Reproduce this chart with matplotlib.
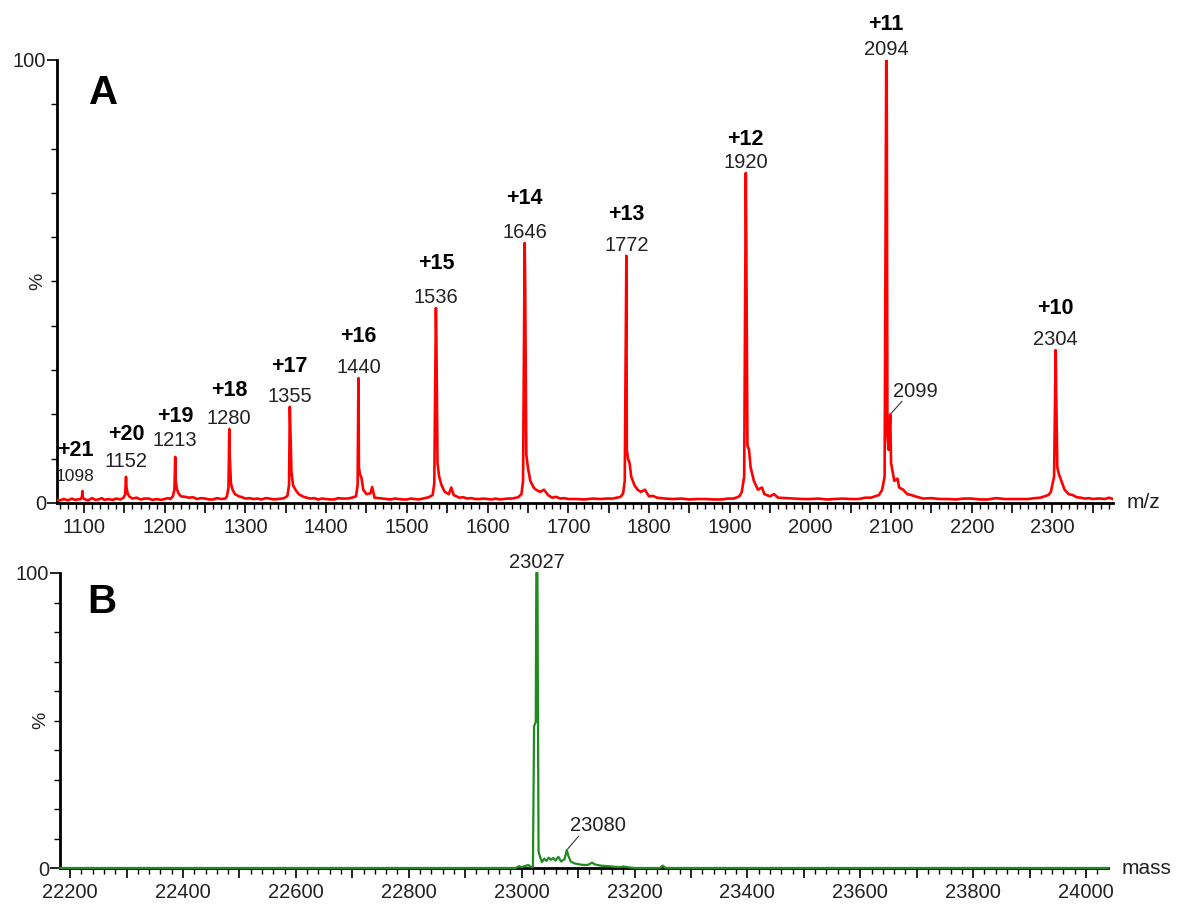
import matplotlib
matplotlib.use("Agg")
import matplotlib.pyplot as plt
from matplotlib.ticker import MultipleLocator, FuncFormatter, FixedLocator

plt.rcParams['font.family'] = ['Liberation Sans', 'DejaVu Sans']

# ---------------- Panel A data (m/z spectrum) ----------------
mz_A = [1066, 1070, 1075, 1080, 1085, 1089, 1092, 1096, 1097.5, 1098, 1098.6, 1100, 1105, 1110, 1114, 1118, 1122, 1125, 1130, 1135, 1140, 1145,
        1149, 1151, 1152, 1152.6, 1154, 1156, 1160, 1165, 1170, 1175, 1180, 1185, 1190, 1195, 1200, 1204, 1207,
        1210, 1212, 1213, 1213.6, 1215, 1217, 1220, 1225, 1230, 1235, 1240, 1245, 1250, 1255, 1260, 1265, 1270, 1275,
        1277, 1279, 1280, 1280.6, 1282, 1284, 1287, 1292, 1296, 1300, 1305, 1310, 1315, 1320, 1325, 1330, 1335, 1340, 1345, 1348,
        1352, 1354, 1355, 1355.6, 1357, 1359, 1362, 1366, 1372, 1376, 1380, 1385, 1390, 1395, 1400, 1405, 1410, 1415, 1420, 1426, 1432,
        1437, 1439, 1440, 1440.6, 1442, 1444, 1446, 1450, 1455, 1457, 1460, 1465, 1470, 1475, 1480, 1485, 1490, 1495, 1500, 1505, 1510, 1515, 1520, 1527,
        1532, 1534, 1536, 1536.6, 1538, 1540, 1543, 1547, 1552, 1555, 1558, 1565, 1570, 1575, 1580, 1585, 1590, 1595, 1600, 1605, 1610, 1615, 1620, 1625, 1630, 1638,
        1642, 1644, 1646, 1646.6, 1648, 1650, 1653, 1657, 1660, 1665, 1670, 1675, 1680, 1685, 1690, 1695, 1700, 1710, 1720, 1730, 1740, 1748, 1755, 1765,
        1768, 1770, 1772, 1772.6, 1774, 1776, 1778, 1782, 1786, 1790, 1795, 1800, 1805, 1810, 1820, 1830, 1840, 1850, 1860, 1870, 1880, 1890, 1898, 1905, 1912,
        1915, 1918, 1920, 1920.6, 1922, 1924, 1926, 1930, 1935, 1940, 1943, 1950, 1955, 1960, 1970, 1980, 1990, 2000, 2010, 2020, 2030, 2040, 2050, 2060, 2068, 2075, 2085,
        2089, 2092, 2094, 2094.6, 2095.5, 2097, 2099, 2100, 2102, 2104, 2108, 2110, 2115, 2120, 2125, 2130, 2140, 2150, 2160, 2170, 2180, 2190, 2200, 2210, 2220, 2230, 2240, 2250, 2260, 2270, 2278, 2285, 2295,
        2298, 2302, 2304, 2304.6, 2306, 2308, 2311, 2315, 2320, 2325, 2330, 2335, 2340, 2345, 2350, 2355, 2360, 2365, 2370, 2375]
int_A = [0.8, 0.6, 0.9, 0.6, 1.0, 0.7, 0.8, 0.9, 1.5, 2.7, 1.2, 0.9, 0.6, 1.1, 0.7, 0.8, 1.1, 0.7, 0.9, 0.7, 1.0, 0.8,
         1.2, 2.0, 5.9, 3.5, 2.2, 1.5, 1.0, 1.2, 0.8, 1.0, 1.0, 0.7, 0.9, 0.7, 0.9, 1.1, 0.9,
         1.5, 3.0, 10.4, 5.0, 3.2, 2.2, 1.5, 1.4, 1.2, 1.3, 0.9, 1.1, 1.0, 0.8, 0.8, 1.1, 0.9, 1.0,
         1.5, 3.5, 16.7, 10.5, 4.5, 3.0, 2.0, 1.5, 1.3, 1.0, 1.1, 0.9, 1.0, 0.8, 1.1, 1.0, 0.8, 0.9, 1.0, 1.1,
         1.6, 4.0, 21.7, 17.0, 7.0, 4.0, 3.0, 2.0, 1.4, 1.2, 1.0, 1.1, 0.8, 1.0, 0.9, 0.8, 0.8, 1.1, 1.0, 1.0, 1.2,
         1.5, 4.0, 28.2, 8.0, 6.5, 5.5, 3.0, 2.0, 2.2, 3.6, 1.2, 1.1, 1.0, 0.9, 0.8, 1.0, 0.9, 0.8, 0.8, 1.0, 0.9, 0.8, 1.0, 1.3,
         1.8, 4.5, 44.0, 37.0, 9.0, 6.0, 4.0, 2.5, 2.0, 3.5, 1.8, 1.2, 1.3, 1.0, 1.1, 0.9, 0.9, 1.0, 0.9, 0.8, 1.0, 0.8, 0.9, 1.0, 1.0, 1.3,
         2.0, 5.0, 58.7, 50.0, 11.0, 8.0, 5.0, 3.5, 3.0, 2.5, 3.0, 1.8, 1.2, 1.4, 1.0, 1.1, 0.9, 0.9, 0.8, 1.0, 0.9, 1.0, 1.0, 1.4,
         2.2, 5.0, 55.8, 12.0, 10.0, 9.0, 6.0, 4.0, 3.0, 2.5, 3.0, 1.5, 1.6, 1.2, 1.0, 0.9, 1.0, 0.8, 0.9, 0.9, 0.8, 0.8, 1.0, 1.0, 1.5,
         2.5, 6.0, 74.5, 60.0, 13.0, 12.0, 8.0, 5.0, 3.0, 3.5, 2.0, 1.5, 2.0, 1.2, 1.1, 1.0, 0.9, 0.9, 1.0, 0.8, 0.9, 1.0, 0.9, 0.9, 1.2, 1.2, 1.8,
         3.0, 6.0, 100.0, 98.0, 15.0, 12.0, 20.0, 9.0, 7.0, 5.0, 5.5, 3.5, 3.0, 2.0, 1.8, 1.5, 1.0, 1.1, 0.9, 0.9, 0.8, 1.0, 1.0, 0.8, 0.8, 1.1, 0.9, 0.9, 0.9, 0.9, 1.1, 1.2, 1.8,
         2.5, 6.0, 34.5, 25.0, 8.0, 6.5, 5.0, 3.0, 2.0, 1.8, 1.3, 1.2, 1.0, 1.1, 0.9, 1.0, 1.0, 0.9, 1.2, 0.9]

peak_mz = [1098, 1152, 1213, 1280, 1355, 1440, 1536, 1646, 1772, 1920, 2094, 2304]
peak_int = [2.7, 5.9, 10.4, 16.7, 21.7, 28.2, 44.0, 58.7, 55.8, 74.5, 100.0, 34.5]
charges = ['+21', '+20', '+19', '+18', '+17', '+16', '+15', '+14', '+13', '+12', '+11', '+10']
minor_peak_A = (2099, 20.0)

# ---------------- Panel B data (deconvoluted mass) ----------------
mass_B = [22182, 22990, 22995, 23000, 23008, 23012, 23015, 23020, 23022, 23025, 23026, 23028, 23029, 23030,
          23033, 23036, 23040, 23044, 23048, 23052, 23056, 23060, 23065, 23070, 23076, 23080, 23083, 23087,
          23093, 23100, 23110, 23118, 23125, 23130, 23140, 23155, 23165, 23175, 23180, 23190, 23200, 23245,
          23250, 23255, 24039]
int_B = [0, 0, 0.6, 0.3, 0.8, 1.0, 0.5, 0.3, 48, 49.5, 100, 100, 50, 5.5,
         3.5, 2.0, 3.2, 2.4, 3.5, 2.8, 3.4, 2.5, 3.8, 2.2, 3.0, 6.1, 4.0, 2.2,
         1.6, 1.3, 1.0, 1.1, 1.8, 1.2, 0.8, 0.6, 0.4, 0.3, 0.5, 0.2, 0, 0,
         0.8, 0, 0]
main_peak_B = (23027, 100)
minor_peak_B = (23080, 6.1)

W, H = 1183, 906
fig = plt.figure(figsize=(W / 100, H / 100), dpi=100)

def px_axes(l, t, r, b):
    return fig.add_axes([l / W, 1 - b / H, (r - l) / W, (b - t) / H])

axA = px_axes(57, 60, 1113, 503)
axB = px_axes(60, 573, 1108, 868)

txt_col = '#222222'
TICK_FS = 14.5
NUM_FS = 14.5
CHG_FS = 15.5

def style_axis(ax, xmaj, xmin, xlab_step, xlabel):
    for s in ['top', 'right']:
        ax.spines[s].set_visible(False)
    for s in ['left', 'bottom']:
        ax.spines[s].set_linewidth(2.0)
    ax.set_ylim(0, 100)
    ax.yaxis.set_major_locator(FixedLocator([0, 100]))
    ax.yaxis.set_minor_locator(MultipleLocator(10))
    ax.xaxis.set_major_locator(MultipleLocator(xmaj))
    ax.xaxis.set_minor_locator(MultipleLocator(xmin))
    ax.xaxis.set_major_formatter(FuncFormatter(
        lambda v, p: f"{int(round(v))}" if abs(v / xlab_step - round(v / xlab_step)) < 1e-6 else ""))
    ax.tick_params(axis='both', which='major', direction='out', length=7, width=1.2,
                   labelsize=TICK_FS, colors='black', labelcolor=txt_col)
    ax.tick_params(axis='x', which='major', pad=4)
    ax.tick_params(axis='y', which='major', pad=1)
    ax.tick_params(axis='both', which='minor', direction='out', length=4, width=1.0, colors='black')
    ax.text(-0.018, 50, '%', transform=ax.get_yaxis_transform(), rotation=90,
            ha='center', va='center', fontsize=14, color=txt_col)
    ax.annotate(xlabel, xy=(1, 0), xycoords='axes fraction', xytext=(10, 0),
                textcoords='offset points', ha='left', va='center', fontsize=15, color=txt_col)

# Panel A
axA.plot(mz_A, int_A, color='#ff0000', lw=1.9, zorder=3)
axA.set_xlim(1066.5, 2375)
style_axis(axA, 50, 10, 100, 'm/z')

charge_gap = [17, 19, 17, 20, 21, 22, 24, 24, 22, 16, 18, 22]
label_lift = [4.5, 3.5, 4.5, 0, 0, 0, 0, 0, 0, 0, 0, 0]
for i, (x, h, c) in enumerate(zip(peak_mz, peak_int, charges)):
    fs = 12.5 if i == 0 else NUM_FS
    dx = -5 if i == 0 else 0
    axA.annotate(str(x), xy=(x, h), xytext=(dx, 0.5 + label_lift[i]), textcoords='offset points',
                 ha='center', va='bottom', fontsize=fs, color=txt_col)
    axA.annotate(c, xy=(x, h), xytext=(dx, 0.3 + label_lift[i] + charge_gap[i]), textcoords='offset points',
                 ha='center', va='bottom', fontsize=CHG_FS, fontweight='bold', color='black')

axA.annotate('', xy=minor_peak_A, xytext=(8.5, 9.5), textcoords='offset points',
             arrowprops=dict(arrowstyle='-', lw=0.8, color='#333333', shrinkA=0, shrinkB=1))
axA.annotate(str(minor_peak_A[0]), xy=minor_peak_A, xytext=(18, 16.5), textcoords='offset points',
             ha='center', va='center', fontsize=NUM_FS, color=txt_col)
fig.text(104 / W, 1 - 93 / H, 'A', ha='center', va='center', fontsize=29, fontweight='bold')

# Panel B
axB.plot(mass_B, int_B, color='#1e8c1e', lw=1.6, zorder=3, clip_on=False)
axB.set_xlim(22182, 24039)
style_axis(axB, 100, 20, 200, 'mass')
axB.annotate(str(main_peak_B[0]), xy=main_peak_B, xytext=(0, 0.5), textcoords='offset points',
             ha='center', va='bottom', fontsize=NUM_FS, color=txt_col)
axB.annotate('', xy=minor_peak_B, xytext=(8.6, 10), textcoords='offset points',
             arrowprops=dict(arrowstyle='-', lw=0.8, color='#333333', shrinkA=0, shrinkB=1))
axB.annotate(str(minor_peak_B[0]), xy=minor_peak_B, xytext=(22.5, 18), textcoords='offset points',
             ha='center', va='center', fontsize=NUM_FS, color=txt_col)
fig.text(102 / W, 1 - 602 / H, 'B', ha='center', va='center', fontsize=29, fontweight='bold')

fig.savefig('out.png', dpi=100)
